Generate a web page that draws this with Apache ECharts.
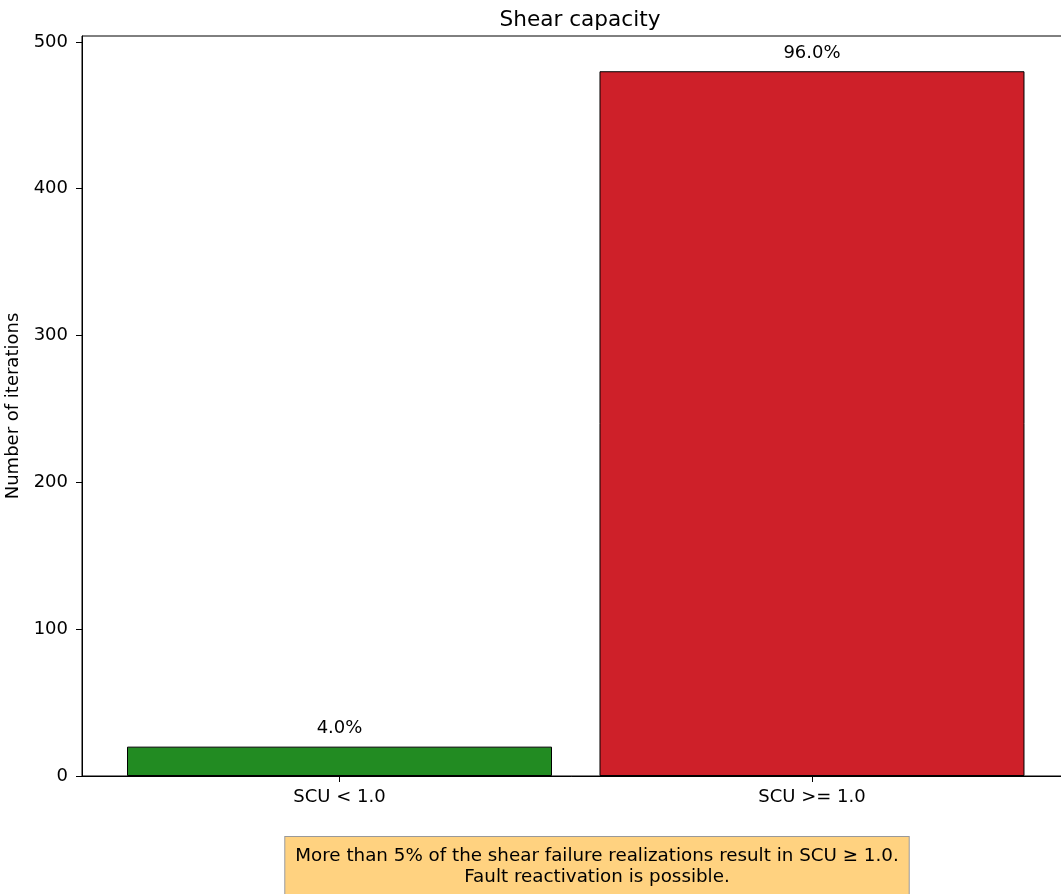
<!DOCTYPE html>
<html>
<head>
<meta charset="utf-8">
<script src="https://cdn.jsdelivr.net/npm/echarts@6/dist/echarts.min.js"></script>
<style>
html,body{margin:0;padding:0;background:#fff;}
#chart{width:1061px;height:894px;}
</style>
</head>
<body>
<div id="chart"></div>
<script>
// ---- data ----
const categories = ['SCU < 1.0', 'SCU >= 1.0'];
const counts = [20, 480];
const barColors = ['#228b22', '#ce2029'];
const yTicks = [0, 100, 200, 300, 400, 500];
const titleText = 'Shear capacity';
const yName = 'Number of iterations';
const noteText = 'More than 5% of the shear failure realizations result in SCU \u2265 1.0.\nFault reactivation is possible.';

const total = counts.reduce((a, b) => a + b, 0);
const FONT = 'DejaVu Sans';

const chart = echarts.init(document.getElementById('chart'));
chart.setOption({
  animation: false,
  backgroundColor: '#fff',
  textStyle: { fontFamily: FONT, color: '#000' },
  title: {
    text: titleText,
    left: 575, top: 4, textAlign: 'center',
    textStyle: { fontFamily: FONT, fontSize: 21.6, fontWeight: 'normal', color: '#000' }
  },
  grid: {
    left: 82, top: 36, width: 987.5, height: 740,
    outerBoundsMode: 'none', containLabel: false,
    show: true, borderColor: '#000', borderWidth: 1, backgroundColor: 'transparent'
  },
  xAxis: {
    type: 'value', min: -0.545, max: 1.545,
    splitLine: { show: false },
    axisLine: { show: true, onZero: false, lineStyle: { color: '#000', width: 1 } },
    axisTick: { show: true, length: 6, lineStyle: { color: '#000' }, customValues: categories.map((c, i) => i) },
    axisLabel: {
      customValues: categories.map((c, i) => i),
      formatter: v => categories[Math.round(v)] || '',
      margin: 12, fontSize: 18, fontFamily: FONT, color: '#000'
    }
  },
  yAxis: {
    type: 'value', min: 0, max: 504,
    name: yName, nameLocation: 'middle', nameRotate: 90, nameGap: 58,
    nameTextStyle: { fontSize: 18, fontFamily: FONT, color: '#000' },
    splitLine: { show: false },
    axisLine: { show: true, onZero: false, lineStyle: { color: '#000', width: 1 } },
    axisTick: { show: true, length: 6, lineStyle: { color: '#000' }, customValues: yTicks },
    axisLabel: { customValues: yTicks, margin: 14, fontSize: 18, fontFamily: FONT, color: '#000' }
  },
  series: [{
    type: 'bar',
    barWidth: 425,
    data: counts.map((v, i) => ({
      value: [i, v],
      itemStyle: { color: barColors[i], borderColor: '#000', borderWidth: 1 }
    })),
    label: {
      show: true, position: 'top', distance: 9,
      fontSize: 18, fontFamily: FONT, color: '#000',
      formatter: p => (p.value[1] / total * 100).toFixed(1) + '%'
    }
  }],
  graphic: [{
    type: 'text',
    x: 597, y: 837,
    style: {
      text: noteText,
      x: 0, y: 0,
      align: 'center',
      verticalAlign: 'top',
      fontSize: 18.3, fontFamily: FONT, fill: '#000',
      lineHeight: 21,
      backgroundColor: '#ffd280',
      borderColor: '#999999', borderWidth: 1,
      padding: [9, 10, 9, 10]
    }
  }]
});
</script>
</body>
</html>
